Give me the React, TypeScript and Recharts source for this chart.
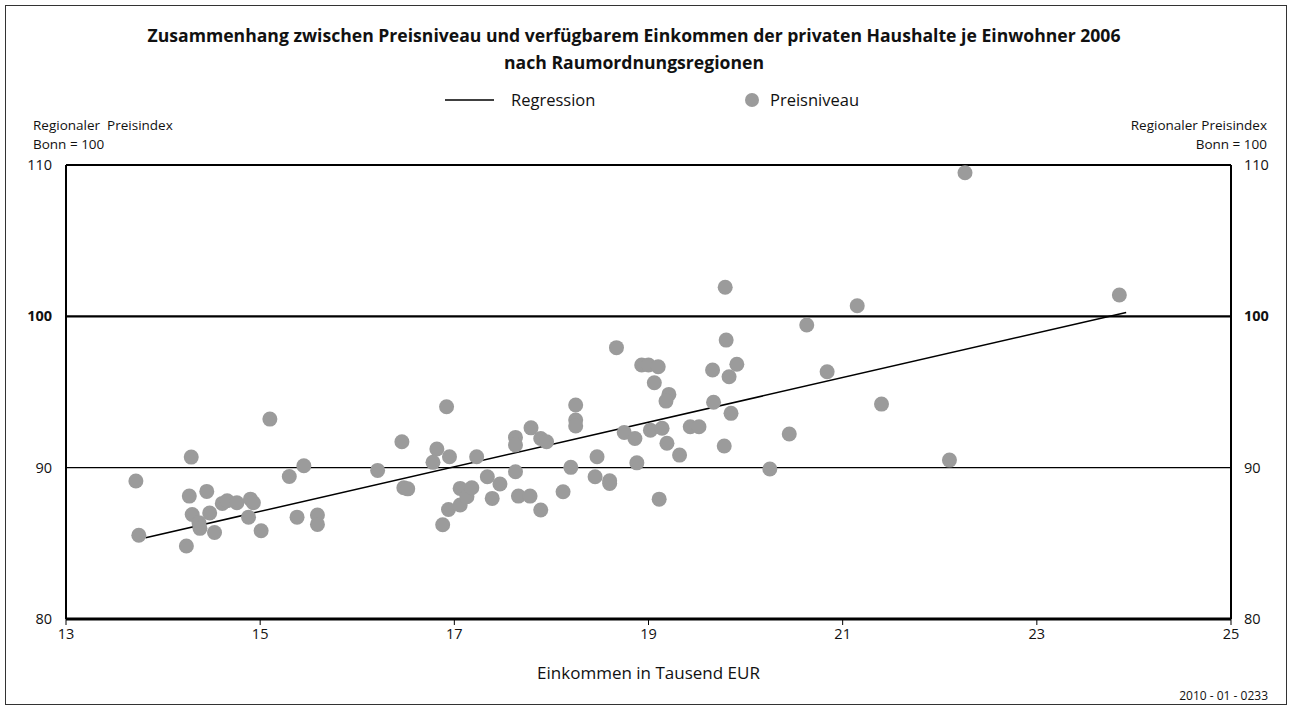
import React from 'react';
import {
  ScatterChart,
  Scatter,
  XAxis,
  YAxis,
  ReferenceLine,
  Label,
} from 'recharts';

// Einkommen (Tausend EUR) je Raumordnungsregion
const income = [
  13.72, 13.75, 14.24, 14.29, 14.27, 14.45, 14.3, 14.37, 14.38, 14.48, 14.53, 14.61,
  14.66, 14.76, 14.9, 14.93, 14.88, 15.01, 15.1, 15.3, 15.45, 15.38, 15.59, 15.59,
  16.21, 16.46, 16.48, 16.52, 16.92, 16.82, 16.78, 16.95, 16.94, 16.88, 17.06, 17.06,
  17.13, 17.18, 17.23, 17.34, 17.39, 17.47, 17.63, 17.63, 17.63, 17.66, 17.78, 17.79,
  17.89, 17.95, 17.89, 18.25, 18.25, 18.25, 18.2, 18.12, 18.47, 18.45, 18.6, 18.6,
  18.67, 18.75, 18.86, 18.88, 18.93, 19.0, 19.1, 19.06, 19.21, 19.18, 19.02, 19.14,
  19.19, 19.32, 19.11, 19.43, 19.52, 19.66, 19.67, 19.79, 19.8, 19.91, 19.83, 19.85,
  19.78, 20.63, 21.15, 20.84, 20.45, 20.25, 21.4, 22.26, 23.85, 22.1,
];

// Regionaler Preisindex (Bonn = 100)
const priceIndex = [
  89.12, 85.53, 84.82, 90.7, 88.12, 88.43, 86.91, 86.36, 85.99, 87.0, 85.72, 87.64,
  87.81, 87.68, 87.92, 87.68, 86.73, 85.83, 93.21, 89.42, 90.13, 86.73, 86.87, 86.25,
  89.82, 91.71, 88.67, 88.6, 94.03, 91.23, 90.35, 90.72, 87.24, 86.23, 88.63, 87.53,
  88.08, 88.67, 90.72, 89.4, 87.97, 88.92, 92.0, 91.5, 89.73, 88.12, 88.12, 92.63,
  91.93, 91.71, 87.2, 94.14, 93.15, 92.75, 90.02, 88.41, 90.72, 89.4, 89.13, 88.96,
  97.93, 92.33, 91.93, 90.32, 96.78, 96.78, 96.67, 95.61, 94.84, 94.4, 92.48, 92.6,
  91.61, 90.83, 87.92, 92.7, 92.7, 96.45, 94.32, 101.92, 98.43, 96.83, 96.01, 93.59,
  91.43, 99.43, 100.7, 96.34, 92.22, 89.91, 94.2, 109.49, 101.41, 90.5,
];

// Regressionsgerade, Endpunkte
const regressionIncome = [13.82, 23.92];
const regressionIndex = [85.37, 100.26];

const xTicks = [13, 15, 17, 19, 21, 23, 25];
const yTicks = [80, 90, 100, 110];

const points = income.map((x, i) => ({ x, y: priceIndex[i] }));
const regression = regressionIncome.map((x, i) => ({ x, y: regressionIndex[i] }));

const FONT = '"Open Sans", "Noto Sans", sans-serif';
const DOT = '#9b9b9b';

const Dot = (props: any) => {
  const { cx, cy } = props;
  if (cx == null || cy == null) return <g />;
  return <circle cx={cx} cy={cy} r={7.5} fill={DOT} />;
};

const YTick = (props: any) => {
  const { x, y, payload, textAnchor } = props;
  return (
    <text
      x={x}
      y={y}
      dy="0.35em"
      textAnchor={textAnchor}
      fontFamily={FONT}
      fontSize={14.5}
      fontWeight={payload.value === 100 ? 700 : 400}
      fill="#111"
    >
      {payload.value}
    </text>
  );
};

const textStyle: React.CSSProperties = {
  position: 'absolute',
  fontFamily: FONT,
  color: '#111',
  whiteSpace: 'nowrap',
};

const small: React.CSSProperties = { ...textStyle, fontSize: 13.5, lineHeight: '18px', height: 18 };

export default function App() {
  return (
    <div style={{ position: 'absolute', left: 0, top: 0, width: 1292, height: 711, background: '#fff' }}>
      <div
        style={{
          position: 'absolute',
          left: 5,
          top: 5,
          width: 1280,
          height: 698,
          border: '1.5px solid #333',
        }}
      />
      <div
        style={{
          ...textStyle,
          left: 134,
          width: 1000,
          top: 22,
          textAlign: 'center',
          fontSize: 17.6,
          fontWeight: 700,
          lineHeight: '27px',
        }}
      >
        Zusammenhang zwischen Preisniveau und verfügbarem Einkommen der privaten Haushalte je Einwohner 2006
        <br />
        nach Raumordnungsregionen
      </div>
      <svg width={1292} height={24} style={{ position: 'absolute', left: 0, top: 88 }}>
        <line x1={445} x2={494} y1={12} y2={12} stroke="#000" strokeWidth={1.5} />
        <text x={511} y={12} dy="0.35em" fontFamily={FONT} fontSize={16.5} fill="#111">
          Regression
        </text>
        <circle cx={752} cy={12} r={7} fill={DOT} />
        <text x={770} y={12} dy="0.35em" fontFamily={FONT} fontSize={16.5} fill="#111">
          Preisniveau
        </text>
      </svg>
      <div style={{ ...small, left: 33, top: 116 }}>Regionaler&nbsp; Preisindex</div>
      <div style={{ ...small, left: 33, top: 134.5 }}>Bonn = 100</div>
      <div style={{ ...small, right: 1292 - 1267, top: 116, textAlign: 'right' }}>Regionaler Preisindex</div>
      <div style={{ ...small, right: 1292 - 1267, top: 134.5, textAlign: 'right' }}>Bonn = 100</div>
      <div style={{ ...textStyle, right: 1292 - 1268, top: 689, fontSize: 12, lineHeight: '14px' }}>
        2010 - 01 - 0233
      </div>
      <div style={{ position: 'absolute', left: 0, top: 0 }}>
        <ScatterChart width={1292} height={711} margin={{ top: 165, right: 0, bottom: 62, left: 0 }}>
          <XAxis
            type="number"
            dataKey="x"
            domain={[13, 25]}
            ticks={xTicks}
            interval={0}
            allowDataOverflow
            axisLine={{ stroke: '#000', strokeWidth: 3 }}
            tickLine={{ stroke: '#000', strokeWidth: 1 }}
            tickSize={6}
            tickMargin={4}
            height={30}
            tick={{ fontFamily: FONT, fontSize: 14.5, fill: '#111' }}
          >
            <Label
              value="Einkommen in Tausend EUR"
              position="bottom"
              offset={18}
              style={{ fontFamily: FONT, fontSize: 17, fill: '#111' }}
            />
          </XAxis>
          <YAxis
            yAxisId="left"
            type="number"
            dataKey="y"
            domain={[80, 110]}
            ticks={yTicks}
            interval={0}
            allowDataOverflow
            width={66}
            axisLine={{ stroke: '#000', strokeWidth: 2 }}
            tickLine={false}
            tickMargin={8}
            tick={<YTick />}
          />
          <YAxis
            yAxisId="right"
            orientation="right"
            type="number"
            dataKey="y"
            domain={[80, 110]}
            ticks={yTicks}
            interval={0}
            allowDataOverflow
            width={61}
            axisLine={{ stroke: '#000', strokeWidth: 2 }}
            tickLine={false}
            tickMargin={7}
            tick={<YTick />}
          />
          <ReferenceLine yAxisId="left" y={90} stroke="#000" strokeWidth={1.3} />
          <ReferenceLine yAxisId="left" y={100} stroke="#000" strokeWidth={2.2} />
          <ReferenceLine yAxisId="left" y={110} stroke="#000" strokeWidth={2} />
          <Scatter
            yAxisId="left"
            name="Regression"
            data={regression}
            line={{ stroke: '#000', strokeWidth: 1.5 }}
            shape={() => <g />}
            isAnimationActive={false}
          />
          <Scatter
            yAxisId="left"
            name="Preisniveau"
            data={points}
            fill={DOT}
            shape={<Dot />}
            isAnimationActive={false}
          />
        </ScatterChart>
      </div>
    </div>
  );
}
